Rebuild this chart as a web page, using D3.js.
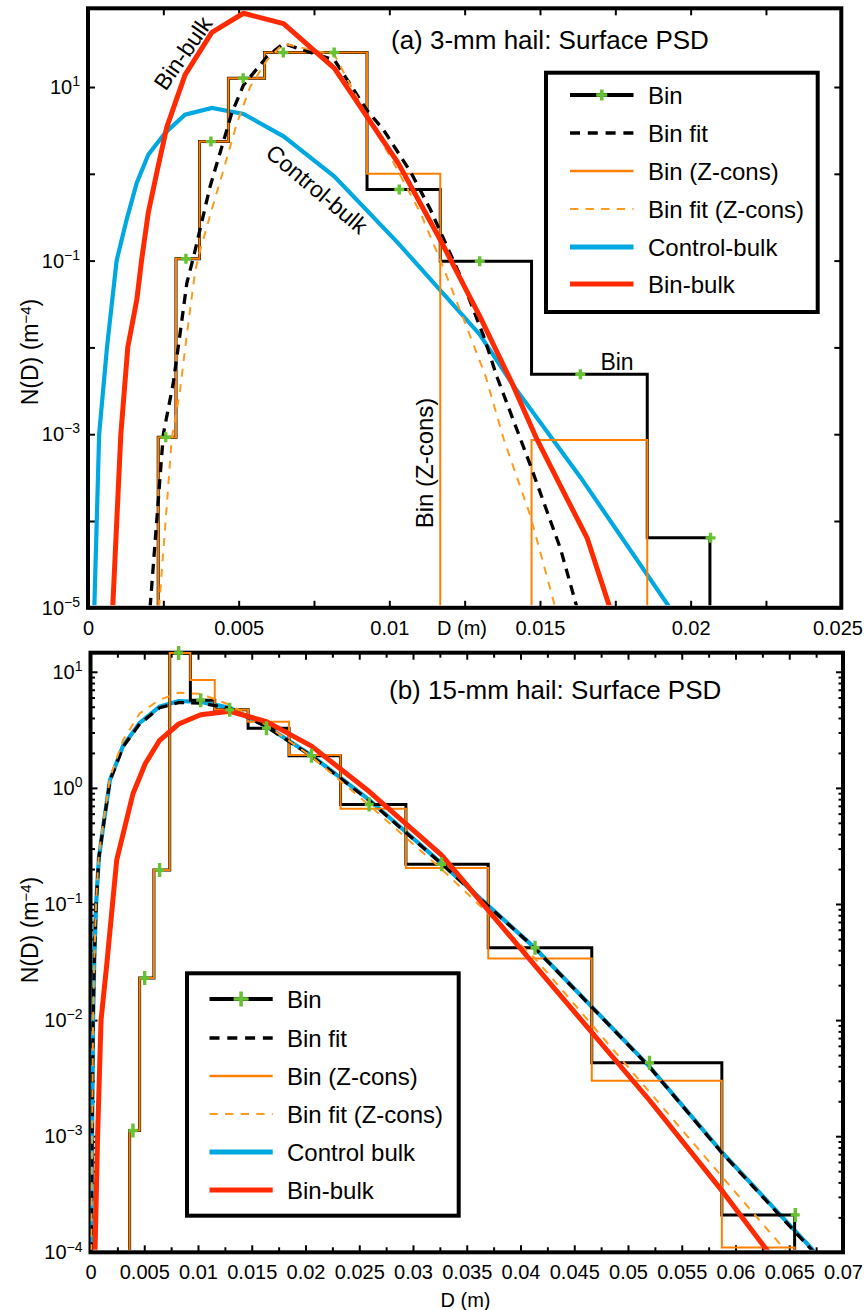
<!DOCTYPE html>
<html>
<head>
<meta charset="utf-8">
<script src="https://cdn.jsdelivr.net/npm/d3@7/dist/d3.min.js"></script>
<style>
  body { margin: 0; background: #fff; }
  svg { display: block; }
  text { font-family: "Liberation Sans", Arial, Helvetica, sans-serif; fill: #000; }
</style>
</head>
<body>
<svg id="fig" width="864" height="1310"></svg>
<script>
// ---------- Panel (a): 3-mm hail, surface PSD ----------
const aEdges   = [0.00233, 0.00292, 0.0037, 0.00466, 0.00586, 0.0074, 0.00926, 0.01169, 0.01472, 0.01856, 0.02064];
const aCenters = [0.00258, 0.00325, 0.00408, 0.00515, 0.00648, 0.00817, 0.01033, 0.0130, 0.01634, 0.02066];
const aBin     = [9.2e-4, 0.105, 2.35, 12.6, 25, 25, 0.66, 0.098, 4.9e-3, 6.4e-5];
const aBinZ    = [9.2e-4, 0.105, 2.35, 12.6, 25, 25, 1.0, 0, 8.6e-4, 0];
// [D (m), N(D) (m^-4)]
const aFit = [[0.00206,1e-5],[0.0025,1e-3],[0.00283,3.9e-3],[0.00306,0.0148],[0.00328,0.055],[0.00352,0.117],
  [0.00405,0.71],[0.00444,2.04],[0.00477,5.0],[0.00516,10.5],[0.00594,22.4],[0.00649,31.6],[0.00818,20.4],
  [0.00926,5.4],[0.00981,3.2],[0.0107,1.06],[0.01136,0.39],[0.01236,0.066],[0.01313,0.0135],[0.01358,4.5e-3],
  [0.01468,4.4e-4],[0.01568,4.8e-5],[0.01623,1e-5]];
const aFitZ = [[0.00236,1e-5],[0.00278,8.9e-4],[0.00306,3.3e-3],[0.00322,9.5e-3],[0.00339,0.0275],[0.00355,0.072],
  [0.00366,0.11],[0.00411,0.39],[0.0045,1.12],[0.00494,3.8],[0.00538,10],[0.00594,20.4],[0.00649,31.6],
  [0.00818,23.4],[0.00926,4.6],[0.01003,1.58],[0.01103,0.355],[0.01169,0.102],[0.01247,0.021],[0.01319,4.7e-3],
  [0.0138,8.7e-4],[0.01468,1.15e-4],[0.01551,1e-5]];
const aControl = [[0.00021,1e-5],[0.00037,1e-3],[0.00063,0.01],[0.00095,0.1],[0.00128,0.295],[0.00162,0.79],
  [0.0020,1.66],[0.00256,2.95],[0.00322,4.8],[0.00411,5.75],[0.00516,4.9],[0.00649,2.7],[0.00818,0.93],
  [0.0103,0.158],[0.0130,0.0141],[0.0141,3.7e-3],[0.01634,3.2e-4],[0.01931,1e-5]];
const aBulk = [[0.00082,1e-5],[0.00109,1e-3],[0.00132,0.01],[0.00162,0.0355],[0.00178,0.102],[0.002,0.355],
  [0.00228,1.02],[0.00261,3.4],[0.00322,13.8],[0.00411,42.7],[0.00516,70.8],[0.00649,53.7],[0.00818,16.4],
  [0.0103,1.32],[0.01169,0.174],[0.0130,0.0229],[0.0141,3.7e-3],[0.0149,8.7e-4],[0.01579,2.14e-4],
  [0.01657,6.3e-5],[0.01732,1e-5]];

// ---------- Panel (b): 15-mm hail, surface PSD ----------
const bEdges   = [0.00364, 0.00457, 0.0059, 0.00737, 0.00929, 0.01156, 0.01466, 0.01847, 0.02326, 0.02934, 0.037, 0.04663, 0.05873, 0.0655];
const bCenters = [0.00395, 0.00504, 0.00643, 0.0082, 0.01025, 0.01295, 0.01637, 0.02056, 0.02592, 0.03266, 0.04135, 0.052, 0.06556];
const bBin     = [1.12e-3, 0.023, 0.196, 14.5, 5.7, 4.7, 3.27, 1.89, 0.72, 0.22, 0.042, 4.3e-3, 2.1e-4];
const bBinZ    = [1.12e-3, 0.023, 0.196, 14.5, 8.5, 4.7, 3.72, 1.92, 0.66, 0.204, 0.034, 3.0e-3, 1.1e-4];
const bControl = [[0.00007,1e-4],[0.00015,1e-3],[0.00024,0.01],[0.00035,0.032],[0.00052,0.1],[0.00078,0.25],
  [0.00119,0.47],[0.00181,1.17],[0.00302,2.29],[0.00457,3.63],[0.00643,5.0],[0.0082,5.6],[0.01025,5.5],
  [0.01295,4.9],[0.01637,3.39],[0.02056,1.9],[0.02592,0.79],[0.03266,0.224],[0.04135,0.0417],[0.052,3.98e-3],
  [0.05873,7.3e-4],[0.0674,1e-4]];
const bFit = [[0.00007,1e-4],[0.00015,1e-3],[0.00024,0.01],[0.00035,0.032],[0.00052,0.1],[0.00078,0.25],
  [0.00119,0.47],[0.00181,1.15],[0.00302,2.25],[0.00457,3.55],[0.00643,4.9],[0.0082,5.43],[0.01025,5.37],
  [0.01295,4.84],[0.01637,3.36],[0.02056,1.88],[0.02592,0.78],[0.03266,0.222],[0.04135,0.0415],[0.052,3.95e-3],
  [0.05873,7.2e-4],[0.0673,1e-4]];
const bFitZ = [[0.00007,1e-4],[0.00015,1e-3],[0.00024,0.01],[0.00035,0.033],[0.00052,0.105],[0.00078,0.27],
  [0.00119,0.5],[0.00181,1.22],[0.00302,2.57],[0.00457,4.37],[0.00643,5.75],[0.0082,6.6],[0.01025,6.46],
  [0.01295,5.19],[0.01637,3.47],[0.02056,1.86],[0.02592,0.71],[0.03266,0.2],[0.04135,0.034],[0.052,2.4e-3],
  [0.05873,4.5e-4],[0.0648,1e-4]];
const bBulk = [[0.00042,1e-4],[0.00066,1e-3],[0.00098,0.01],[0.00151,0.03],[0.00244,0.24],[0.00395,0.89],
  [0.0051,1.62],[0.00643,2.57],[0.0082,3.55],[0.01025,4.27],[0.01295,4.57],[0.01637,3.72],[0.02056,2.29],
  [0.02592,0.93],[0.03266,0.263],[0.04135,0.0295],[0.052,2.04e-3],[0.05873,3.4e-4],[0.06307,1e-4]];

// ---------- Axis ticks and legend text ----------
const aXTicks   = [0, 0.005, 0.01, 0.015, 0.02, 0.025];
const aXMinor   = [0.0025, 0.0075, 0.0125, 0.0175, 0.0225];
const aYLabeled = [1e-5, 1e-3, 1e-1, 1e1];
const aYPlain   = [1e-4, 1e-2, 1e0];
const bXTicks   = [0, 0.005, 0.01, 0.015, 0.02, 0.025, 0.03, 0.035, 0.04, 0.045, 0.05, 0.055, 0.06, 0.065, 0.07];
const bXMinor   = [0.0025, 0.0075, 0.0125, 0.0175, 0.0225, 0.0275, 0.0325, 0.0375, 0.0425, 0.0475, 0.0525, 0.0575, 0.0625, 0.0675];
const bYLabeled = [1e-4, 1e-3, 1e-2, 1e-1, 1e0, 1e1];
const aLegend = ["Bin", "Bin fit", "Bin (Z-cons)", "Bin fit (Z-cons)", "Control-bulk", "Bin-bulk"];
const bLegend = ["Bin", "Bin fit", "Bin (Z-cons)", "Bin fit (Z-cons)", "Control bulk", "Bin-bulk"];

// ---------- Drawing ----------
const FONT = '"Liberation Sans", Arial, Helvetica, sans-serif';
const W = 864;
const STYLE = {
  bin:     { stroke: "#000000", width: 3,   dash: null },
  fit:     { stroke: "#000000", width: 3.3, dash: "10,7" },
  binZ:    { stroke: "#ff8000", width: 2,   dash: null },
  fitZ:    { stroke: "#ff9a1f", width: 2,   dash: "8,7.5" },
  control: { stroke: "#00a8e1", width: 4.2, dash: null },
  bulk:    { stroke: "#ff2a00", width: 5,   dash: null }
};
const LEGEND_DASH = { fit: "10,7.8", fitZ: "8.3,7.3" };
const KINDS = ["bin", "fit", "binZ", "fitZ", "control", "bulk"];
const MARK = "#66c232";

const svg = d3.select("#fig");

function stepPoints(edges, vals) {
  const pts = [[edges[0], 0]];
  vals.forEach((v, i) => { pts.push([edges[i], v]); pts.push([edges[i + 1], v]); });
  pts.push([edges[edges.length - 1], 0]);
  return pts;
}

function supLabel(sel) {
  sel.selectAll(".tick text").each(function (d) {
    const t = d3.select(this);
    const e = Math.round(Math.log10(d));
    t.text(null);
    t.append("tspan").text("10");
    t.append("tspan").attr("dy", "-0.55em").attr("font-size", 14)
      .text(e < 0 ? "\u2212" + (-e) : String(e));
  });
}

// keep tick labels inside the page width
function fitInside(sel) {
  sel.selectAll(".tick text").each(function () {
    const b = this.getBBox();
    const m = this.getScreenCTM();
    const right = m.e + b.x + b.width;
    if (right > W - 1) d3.select(this).attr("dx", -(right - (W - 1)));
  });
}

function plusPath(cx, cy, w, h) {
  return `M${cx - w / 2},${cy}H${cx + w / 2}M${cx},${cy - h / 2}V${cy + h / 2}`;
}

function drawPanel(c) {
  const g = svg.append("g");
  const x = d3.scaleLinear().domain(c.xDomain).range([c.left, c.right]);
  const y = d3.scaleLog().domain(c.yDomain).range([c.bottom, c.top]).clamp(true);
  const fmtX = d => d === 0 ? "0" : String(+d.toFixed(3));

  const styleAxis = sel => {
    sel.select(".domain").remove();
    sel.attr("font-family", FONT).attr("font-size", 20);
    sel.selectAll(".tick line").attr("stroke", "#000").attr("stroke-width", 2);
    sel.selectAll(".tick text").attr("fill", "#000");
  };

  // x axes: labelled bottom ticks, plain ticks elsewhere, all pointing inward
  g.append("g").attr("transform", `translate(0,${c.bottom})`)
    .call(d3.axisBottom(x).tickValues(c.xTicks).tickSize(-c.tick).tickPadding(13).tickFormat(fmtX))
    .call(styleAxis).call(fitInside);
  g.append("g").attr("transform", `translate(0,${c.bottom})`)
    .call(d3.axisBottom(x).tickValues(c.xMinor).tickSize(-c.minorX).tickFormat("")).call(styleAxis);
  g.append("g").attr("transform", `translate(0,${c.top})`)
    .call(d3.axisTop(x).tickValues(c.xTicks).tickSize(-c.tick).tickFormat("")).call(styleAxis);
  g.append("g").attr("transform", `translate(0,${c.top})`)
    .call(d3.axisTop(x).tickValues(c.xMinor).tickSize(-c.minorX).tickFormat("")).call(styleAxis);

  // y axes
  g.append("g").attr("transform", `translate(${c.left},0)`)
    .call(d3.axisLeft(y).tickValues(c.yLabeled).tickSize(-c.tick).tickPadding(8)).call(styleAxis).call(supLabel);
  g.append("g").attr("transform", `translate(${c.left},0)`)
    .call(d3.axisLeft(y).tickValues(c.yPlain).tickSize(-c.tick).tickFormat("")).call(styleAxis);
  g.append("g").attr("transform", `translate(${c.left},0)`)
    .call(d3.axisLeft(y).tickValues(c.yMinor).tickSize(-c.minorY).tickFormat("")).call(styleAxis);
  g.append("g").attr("transform", `translate(${c.right},0)`)
    .call(d3.axisRight(y).tickValues(c.yLabeled.concat(c.yPlain)).tickSize(-c.tick).tickFormat("")).call(styleAxis);
  g.append("g").attr("transform", `translate(${c.right},0)`)
    .call(d3.axisRight(y).tickValues(c.yMinor).tickSize(-c.minorY).tickFormat("")).call(styleAxis);

  // frame
  g.append("rect").attr("x", c.left).attr("y", c.top)
    .attr("width", c.right - c.left).attr("height", c.bottom - c.top)
    .attr("fill", "none").attr("stroke", "#000").attr("stroke-width", 4);

  // data, clipped to the plotting box
  const clipId = "clip-" + c.id;
  g.append("clipPath").attr("id", clipId).append("rect")
    .attr("x", c.left).attr("y", c.top - 3)
    .attr("width", c.right - c.left).attr("height", c.bottom - c.top + 0.5);
  const data = g.append("g").attr("clip-path", `url(#${clipId})`);
  const line = d3.line().x(d => x(d[0])).y(d => y(d[1]));
  const series = [
    ["control", c.control], ["bin", stepPoints(c.edges, c.bin)], ["binZ", stepPoints(c.edges, c.binZ)],
    ["fit", c.fit], ["fitZ", c.fitZ]
  ];
  series.forEach(([k, pts]) => {
    const s = STYLE[k];
    data.append("path").attr("d", line(pts)).attr("fill", "none")
      .attr("stroke", s.stroke).attr("stroke-width", s.width)
      .attr("stroke-dasharray", s.dash).attr("stroke-linejoin", "miter");
  });
  // bin-centre markers
  g.append("g").selectAll("path").data(c.centers).join("path")
    .attr("d", (d, i) => plusPath(x(d), y(c.bin[i]), c.markW, c.markH))
    .attr("stroke", MARK).attr("stroke-width", 3.4).attr("fill", "none");
  const sb = STYLE.bulk;
  data.append("path").attr("d", line(c.bulk)).attr("fill", "none")
    .attr("stroke", sb.stroke).attr("stroke-width", sb.width).attr("stroke-linejoin", "round");

  // title and axis labels
  g.append("text").attr("x", c.titleX).attr("y", c.titleY).attr("font-size", 26).text(c.title);
  g.append("text").attr("x", c.xLabelX).attr("y", c.xLabelY).attr("font-size", 20)
    .attr("text-anchor", "middle").text("D (m)");
  const yl = g.append("text").attr("font-size", 23).attr("text-anchor", "middle")
    .attr("transform", `translate(${c.yLabelX},${c.yLabelY}) rotate(-90)`);
  yl.append("tspan").text("N(D) (m");
  yl.append("tspan").attr("dy", "-0.5em").attr("font-size", 15).text("\u22124");
  yl.append("tspan").attr("dy", "0.33em").text(")");

  // legend
  const L = c.legend;
  const lg = g.append("g");
  lg.append("rect").attr("x", L.x0).attr("y", L.y0).attr("width", L.x1 - L.x0).attr("height", L.y1 - L.y0)
    .attr("fill", "#fff").attr("stroke", "#000").attr("stroke-width", 4);
  const legendWidth = { bin: 4, fit: 3.3, binZ: 2.6, fitZ: 2.2, control: 5, bulk: 5 };
  c.legendLabels.forEach((label, i) => {
    const k = KINDS[i], s = STYLE[k], ry = L.rows[i];
    lg.append("line").attr("x1", L.lx0).attr("x2", L.lx1).attr("y1", ry).attr("y2", ry)
      .attr("stroke", s.stroke).attr("stroke-width", legendWidth[k])
      .attr("stroke-dasharray", LEGEND_DASH[k] || null);
    if (k === "bin") {
      lg.append("path").attr("d", plusPath((L.lx0 + L.lx1) / 2, ry, L.mark, L.mark))
        .attr("stroke", MARK).attr("stroke-width", 3.6);
    }
    lg.append("text").attr("x", L.tx).attr("y", ry + 8.6).attr("font-size", 24).text(label);
  });

  return { g, x, y };
}

const pa = drawPanel({
  id: "a", left: 88, right: 841.3, top: 8.3, bottom: 607.8,
  xDomain: [0, 0.025], yDomain: [1e-5, 80.7],
  tick: 7, minorX: 7, minorY: 5,
  xTicks: aXTicks, xMinor: aXMinor, yLabeled: aYLabeled, yPlain: aYPlain, yMinor: [],
  edges: aEdges, centers: aCenters, bin: aBin, binZ: aBinZ,
  fit: aFit, fitZ: aFitZ, control: aControl, bulk: aBulk,
  markW: 10, markH: 10,
  title: "(a) 3-mm hail: Surface PSD", titleX: 391, titleY: 49,
  xLabelX: 462, xLabelY: 635, yLabelX: 38, yLabelY: 352,
  legendLabels: aLegend,
  legend: { x0: 546, x1: 817.7, y0: 72.7, y1: 312, lx0: 570, lx1: 633.5, tx: 648,
            rows: [95, 133, 171, 209, 247, 284], mark: 11 }
});

// curve annotations in panel (a)
const ann = [
  { t: "Bin-bulk", x: 183, y: 53, r: -55, s: 23 },
  { t: "Control-bulk", x: 317, y: 189, r: 40, s: 23 },
  { t: "Bin (Z-cons)", x: 425, y: 463, r: -90, s: 24 },
  { t: "Bin", x: 617, y: 362, r: 0, s: 23 }
];
pa.g.append("g").selectAll("text").data(ann).join("text")
  .attr("transform", d => `translate(${d.x},${d.y}) rotate(${d.r})`)
  .attr("text-anchor", "middle").attr("dy", "0.35em").attr("font-size", d => d.s).text(d => d.t);

const bMinorY = [];
[-4, -3, -2, -1, 0, 1].forEach(e => { for (let m = 2; m <= 9; m++) { const v = m * Math.pow(10, e); if (v <= 14.6) bMinorY.push(v); } });

drawPanel({
  id: "b", left: 90.5, right: 843, top: 652.7, bottom: 1252.3,
  xDomain: [0, 0.07], yDomain: [1e-4, 14.6],
  tick: 7, minorX: 5, minorY: 4.5,
  xTicks: bXTicks, xMinor: bXMinor, yLabeled: bYLabeled, yPlain: [], yMinor: bMinorY,
  edges: bEdges, centers: bCenters, bin: bBin, binZ: bBinZ,
  fit: bFit, fitZ: bFitZ, control: bControl, bulk: bBulk,
  markW: 9, markH: 14,
  title: "(b) 15-mm hail: Surface PSD", titleX: 389, titleY: 699,
  xLabelX: 465.5, xLabelY: 1307, yLabelX: 38, yLabelY: 930,
  legendLabels: bLegend,
  legend: { x0: 187, x1: 458.7, y0: 973.3, y1: 1215.7, lx0: 209.5, lx1: 272.7, tx: 287,
            rows: [999, 1038, 1076, 1114, 1152, 1190], mark: 15 }
});
</script>
</body>
</html>
